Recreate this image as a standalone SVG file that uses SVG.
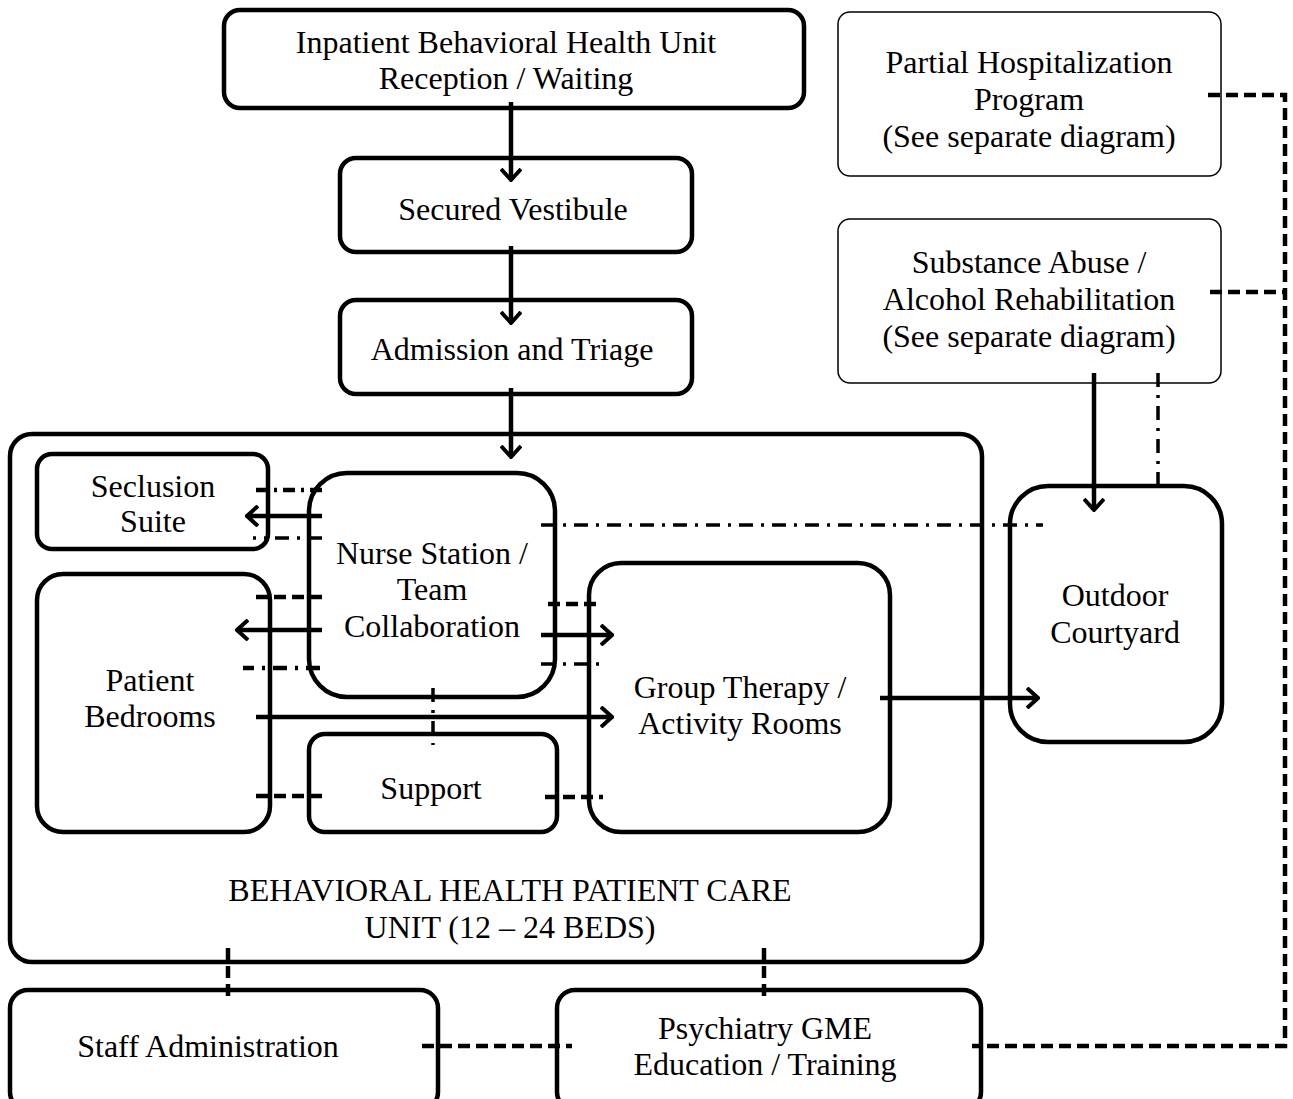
<svg xmlns="http://www.w3.org/2000/svg" width="1293" height="1099" viewBox="0 0 1293 1099">
<style>
.box{fill:#fff;stroke:#000;stroke-width:4.5}
.thin{fill:#fff;stroke:#000;stroke-width:1.5}
.unit{fill:none;stroke:#000;stroke-width:4.5}
text{font-family:"Liberation Serif","Times New Roman",serif;font-size:32px;fill:#000;text-anchor:middle}
.arr{fill:none;stroke:#000;stroke-width:4.5;marker-end:url(#ah)}
.dash{fill:none;stroke:#000;stroke-width:4.5;stroke-dasharray:12 6}
.dd{fill:none;stroke:#000;stroke-width:3.5;stroke-dasharray:14 8 3 8}
</style>
<defs>
<marker id="ah" viewBox="0 0 14 22" refX="12" refY="11" markerWidth="14" markerHeight="22" markerUnits="userSpaceOnUse" orient="auto">
<polyline points="1,1 12,11 1,21" fill="none" stroke="#000" stroke-width="4"/>
</marker>
</defs>
<rect width="1293" height="1099" fill="#fff"/>
<g id="unit">
<rect class="unit" x="10" y="434" width="972" height="528" rx="22"/>
<text x="510" y="901">BEHAVIORAL HEALTH PATIENT CARE</text>
<text x="510" y="938">UNIT (12 – 24 BEDS)</text>
</g>
<g id="reception">
<rect class="box" x="224" y="10" width="580" height="98" rx="16"/>
<text x="506" y="53">Inpatient Behavioral Health Unit</text>
<text x="506" y="89">Reception / Waiting</text>
</g>
<g id="vestibule">
<rect class="box" x="340" y="158" width="352" height="94" rx="16"/>
<text x="513" y="220">Secured Vestibule</text>
</g>
<g id="admission">
<rect class="box" x="340" y="300" width="352" height="94" rx="16"/>
<text x="512" y="360">Admission and Triage</text>
</g>
<g id="partial">
<rect class="thin" x="838" y="12" width="383" height="164" rx="12"/>
<text x="1029" y="73">Partial Hospitalization</text>
<text x="1029" y="110">Program</text>
<text x="1029" y="147">(See separate diagram)</text>
</g>
<g id="substance">
<rect class="thin" x="838" y="219" width="383" height="164" rx="12"/>
<text x="1029" y="273">Substance Abuse /</text>
<text x="1029" y="310">Alcohol Rehabilitation</text>
<text x="1029" y="347">(See separate diagram)</text>
</g>
<g id="seclusion">
<rect class="box" x="37" y="454" width="231" height="95" rx="15"/>
<text x="153" y="497">Seclusion</text>
<text x="153" y="532">Suite</text>
</g>
<g id="nurse">
<rect class="box" x="309" y="473" width="246" height="224" rx="38"/>
<text x="432" y="564">Nurse Station /</text>
<text x="432" y="600">Team</text>
<text x="432" y="637">Collaboration</text>
</g>
<g id="bedrooms">
<rect class="box" x="37" y="574" width="233" height="258" rx="26"/>
<text x="150" y="691">Patient</text>
<text x="150" y="727">Bedrooms</text>
</g>
<g id="support">
<rect class="box" x="309" y="734" width="248" height="98" rx="16"/>
<text x="431" y="799">Support</text>
</g>
<g id="group">
<rect class="box" x="589" y="563" width="301" height="269" rx="32"/>
<text x="740" y="698">Group Therapy /</text>
<text x="740" y="734">Activity Rooms</text>
</g>
<g id="courtyard">
<rect class="box" x="1010" y="486" width="212" height="256" rx="38"/>
<text x="1115" y="606">Outdoor</text>
<text x="1115" y="643">Courtyard</text>
</g>
<g id="staff">
<rect class="box" x="10" y="990" width="428" height="120" rx="18"/>
<text x="208" y="1057">Staff Administration</text>
</g>
<g id="gme">
<rect class="box" x="557" y="990" width="424" height="120" rx="18"/>
<text x="765" y="1039">Psychiatry GME</text>
<text x="765" y="1075">Education / Training</text>
</g>
<g id="connectors">
<path class="arr" d="M511 102 V180"/>
<path class="arr" d="M511 246 V323"/>
<path class="arr" d="M511 388 V457"/>
<path class="arr" d="M1094 373 V510"/>
<path class="arr" d="M880 698 H1038"/>
<path class="arr" d="M322 516 H247"/>
<path class="arr" d="M322 630 H237"/>
<path class="arr" d="M541 635 H612"/>
<path class="arr" d="M256 717 H612"/>
<path class="dash" d="M1208 95 H1285 V1046 H972"/>
<path class="dash" d="M1210 292 H1285"/>
<path class="dash" d="M422 1046 H572"/>
<path class="dash" d="M228 948 V1000"/>
<path class="dash" d="M764 948 V1000"/>
<path class="dd" d="M1158 373 V493"/>
<path class="dd" d="M541 525 H1043"/>
<path class="dash" d="M322 490 H253" style="stroke-dasharray:12 6 3 6"/>
<path class="dd" d="M322 538 H253"/>
<path class="dash" d="M322 597 H250"/>
<path class="dash" d="M320 668 H243" style="stroke-dasharray:14 8 3 8"/>
<path class="dash" d="M548 604 H600"/>
<path class="dd" d="M541 664 H602"/>
<path class="dd" d="M433 688 V745"/>
<path class="dash" d="M322 796 H255"/>
<path class="dash" d="M545 797 H603"/>
</g>
</svg>
